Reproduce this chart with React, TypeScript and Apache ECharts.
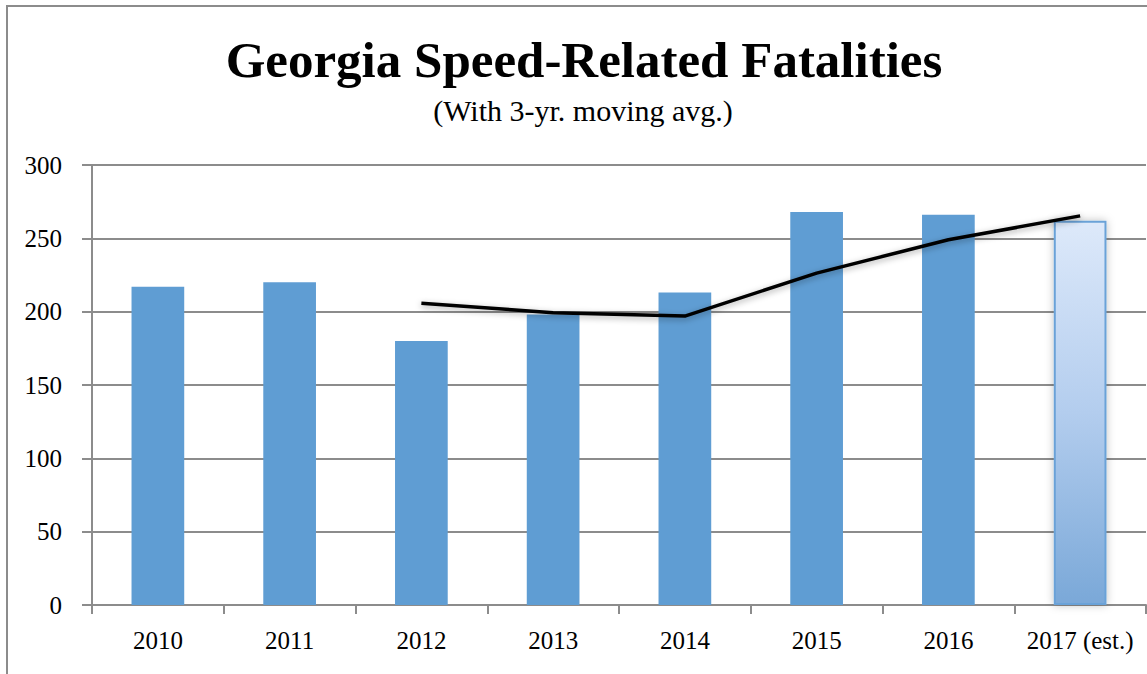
import React, { useEffect, useRef } from "react";
import * as echarts from "echarts";

const categories = ["2010", "2011", "2012", "2013", "2014", "2015", "2016", "2017 (est.)"];
const fatalities = [217, 220, 180, 198, 213, 268, 266, 262];
const movingAvg = [null, null, 205.7, 199.3, 197, 226.3, 249, 265.3];
const yTicks = { min: 0, max: 300, interval: 50 };

const SERIF = "'Liberation Serif', 'DejaVu Serif', serif";
const GRID_GRAY = "#8c8c8c";
const BAR_BLUE = "#5f9dd3";

export default function App() {
  const ref = useRef<HTMLDivElement>(null);
  useEffect(() => {
    if (!ref.current) return;
    const chart = echarts.init(ref.current, undefined, { renderer: "svg" });
    const barData = fatalities.map((v, i) =>
      i === fatalities.length - 1
        ? {
            value: v,
            itemStyle: {
              color: new echarts.graphic.LinearGradient(0, 0, 0, 1, [
                { offset: 0, color: "#dde9fa" },
                { offset: 0.5, color: "#b3cdee" },
                { offset: 1, color: "#7aa8d8" },
              ]),
              borderColor: "#6aa2d8",
              borderWidth: 2,
              shadowBlur: 8,
              shadowColor: "rgba(0,0,0,0.25)",
            },
          }
        : v
    );
    chart.setOption({
      animation: false,
      backgroundColor: "#ffffff",
      graphic: [
        {
          type: "rect",
          shape: { x: 7, y: 6, width: 1160, height: 700 },
          style: { fill: "none", stroke: GRID_GRAY, lineWidth: 2 },
          silent: true,
        },
        {
          type: "text",
          x: 584,
          y: 60,
          style: {
            text: "Georgia Speed-Related Fatalities",
            font: `bold 51px ${SERIF}`,
            fill: "#000",
            textAlign: "center",
            textVerticalAlign: "middle",
          },
        },
        {
          type: "text",
          x: 583,
          y: 110,
          style: {
            text: "(With 3-yr. moving avg.)",
            font: `30px ${SERIF}`,
            fill: "#000",
            textAlign: "center",
            textVerticalAlign: "middle",
          },
        },
      ],
      grid: { left: 92, top: 165, right: 1, bottom: 69, containLabel: false },
      xAxis: {
        type: "category",
        data: categories,
        boundaryGap: true,
        axisLine: { show: true, lineStyle: { color: GRID_GRAY, width: 2 } },
        axisTick: { show: true, interval: 0, length: 9, lineStyle: { color: GRID_GRAY, width: 2 } },
        axisLabel: { interval: 0, hideOverlap: false, color: "#000", fontFamily: SERIF, fontSize: 25, margin: 23 },
      },
      yAxis: {
        type: "value",
        min: yTicks.min,
        max: yTicks.max,
        interval: yTicks.interval,
        axisLine: { show: true, lineStyle: { color: GRID_GRAY, width: 2 } },
        axisTick: { show: true, length: 10, lineStyle: { color: GRID_GRAY, width: 2 } },
        splitLine: { show: true, lineStyle: { color: GRID_GRAY, width: 2 } },
        axisLabel: { color: "#000", fontFamily: SERIF, fontSize: 25, margin: 30 },
      },
      series: [
        {
          type: "bar",
          data: barData,
          barWidth: "40%",
          itemStyle: { color: BAR_BLUE },
          z: 2,
        },
        {
          type: "line",
          data: movingAvg,
          symbol: "none",
          connectNulls: false,
          lineStyle: {
            color: "#000",
            width: 3.5,
            shadowBlur: 6,
            shadowColor: "rgba(0,0,0,0.35)",
            shadowOffsetY: 2,
          },
          z: 3,
        },
      ],
    });
    return () => chart.dispose();
  }, []);
  return (
    <div
      ref={ref}
      style={{ position: "fixed", left: 0, top: 0, width: 1147, height: 674, background: "#fff" }}
    />
  );
}
